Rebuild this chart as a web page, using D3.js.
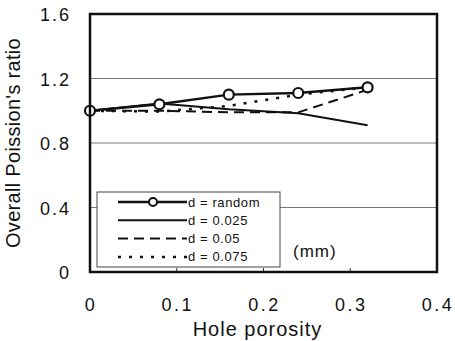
<!DOCTYPE html>
<html>
<head>
<meta charset="utf-8">
<script src="https://cdn.jsdelivr.net/npm/d3@7"></script>
<style>
  body { margin: 0; background: #fff; }
  text { font-family: "Liberation Sans", Arial, sans-serif; fill: #111; }
</style>
</head>
<body>
<div id="chart-area"></div>
<script>
// data
var porosity = [0, 0.08, 0.16, 0.24, 0.32];
var dRandom = [1.0, 1.04, 1.10, 1.11, 1.145];
var d025 = [1.0, 1.045, 1.01, 0.985, 0.91];
var d05 = [1.0, 1.0, 0.99, 0.99, 1.13];
var d075 = [1.0, 0.995, 1.03, 1.10, 1.145];
var xTicks = [0, 0.1, 0.2, 0.3, 0.4];
var yTicks = [0, 0.4, 0.8, 1.2, 1.6];
var seriesNames = ["d = random", "d = 0.025", "d = 0.05", "d = 0.075"];

var margin = { left: 90, right: 18, top: 14, bottom: 69 };
var width = 455 - margin.left - margin.right;
var height = 341 - margin.top - margin.bottom;

var svg = d3.select("#chart-area").append("svg")
  .attr("width", 455)
  .attr("height", 341);

var g = svg.append("g")
  .attr("transform", "translate(" + margin.left + "," + margin.top + ")");

var x = d3.scaleLinear().domain([0, 0.4]).range([0, width]);
var y = d3.scaleLinear().domain([0, 1.6]).range([height, 0]);

// gridlines
g.selectAll(".grid")
  .data(yTicks.filter(function(d) { return d > 0 && d < 1.6; }))
  .enter().append("line")
    .attr("x1", 0).attr("x2", width)
    .attr("y1", function(d) { return y(d); })
    .attr("y2", function(d) { return y(d); })
    .attr("stroke", "#777")
    .attr("stroke-width", 1);

// Y labels
g.selectAll(".ylab")
  .data(yTicks)
  .enter().append("text")
    .attr("x", -19)
    .attr("y", function(d) { return y(d); })
    .attr("dy", "0.4em")
    .attr("text-anchor", "end")
    .attr("font-size", "18px")
    .attr("letter-spacing", "2px")
    .text(function(d) { return d === 0 ? "0" : d3.format(".1f")(d); });

// X labels
g.selectAll(".xlab")
  .data(xTicks)
  .enter().append("text")
    .attr("x", function(d) { return x(d) + 1; })
    .attr("y", height + 33)
    .attr("dy", "0.36em")
    .attr("text-anchor", "middle")
    .attr("font-size", "18px")
    .attr("letter-spacing", "2.5px")
    .text(function(d) { return d === 0 ? "0" : d3.format(".1f")(d); });

// small bottom ticks
g.selectAll(".xtick")
  .data(xTicks.slice(1, 4))
  .enter().append("line")
    .attr("x1", function(d) { return x(d); })
    .attr("x2", function(d) { return x(d); })
    .attr("y1", height).attr("y2", height - 4)
    .attr("stroke", "#333");

// axis titles
g.append("text")
  .attr("x", width / 2 - 6)
  .attr("y", height + 64)
  .attr("text-anchor", "middle")
  .attr("font-size", "20px")
  .attr("letter-spacing", "1px")
  .text("Hole porosity");

g.append("text")
  .attr("transform", "rotate(-90)")
  .attr("x", -129)
  .attr("y", -70)
  .attr("text-anchor", "middle")
  .attr("font-size", "20px")
  .attr("letter-spacing", "0.3px")
  .text("Overall Poission's ratio");

var line = d3.line()
  .x(function(d) { return x(d[0]); })
  .y(function(d) { return y(d[1]); });

function pts(vals) { return porosity.map(function(p, i) { return [p, vals[i]]; }); }

var styles = [
  { vals: dRandom, dash: null, w: 2.5 },
  { vals: d025, dash: null, w: 2 },
  { vals: d05, dash: "10,6", w: 2 },
  { vals: d075, dash: "3,8", w: 2.5 }
];

styles.slice().reverse().forEach(function(s) {
  g.append("path")
    .datum(pts(s.vals))
    .attr("fill", "none")
    .attr("stroke", "#111")
    .attr("stroke-width", s.w)
    .attr("stroke-dasharray", s.dash)
    .attr("d", line);
});

g.selectAll(".marker")
  .data(pts(dRandom))
  .enter().append("circle")
    .attr("cx", function(d) { return x(d[0]); })
    .attr("cy", function(d) { return y(d[1]); })
    .attr("r", 5)
    .attr("fill", "#fff")
    .attr("stroke", "#111")
    .attr("stroke-width", 2.2);

// frame
g.append("rect")
  .attr("width", width).attr("height", height)
  .attr("fill", "none")
  .attr("stroke", "#111")
  .attr("stroke-width", 2.5);

// legend
var lg = g.append("g").attr("transform", "translate(7,178)");
lg.append("rect")
  .attr("width", 183).attr("height", 75)
  .attr("fill", "#fff")
  .attr("stroke", "#444")
  .attr("stroke-width", 1);

styles.forEach(function(s, i) {
  var yy = 10 + i * 18.3;
  lg.append("line")
    .attr("x1", 21).attr("x2", 90)
    .attr("y1", yy).attr("y2", yy)
    .attr("stroke", "#111")
    .attr("stroke-width", s.w)
    .attr("stroke-dasharray", s.dash);
  if (i === 0) {
    lg.append("circle")
      .attr("cx", 56).attr("cy", yy).attr("r", 4)
      .attr("fill", "#fff").attr("stroke", "#111").attr("stroke-width", 2);
  }
  lg.append("text")
    .attr("x", 91).attr("y", yy)
    .attr("dy", "0.35em")
    .attr("font-size", "13px")
    .attr("letter-spacing", "0.6px")
    .text(seriesNames[i]);
});

g.append("text")
  .attr("x", 203)
  .attr("y", 243)
  .attr("font-size", "17px")
  .attr("letter-spacing", "1px")
  .text("(mm)");
</script>
</body>
</html>
